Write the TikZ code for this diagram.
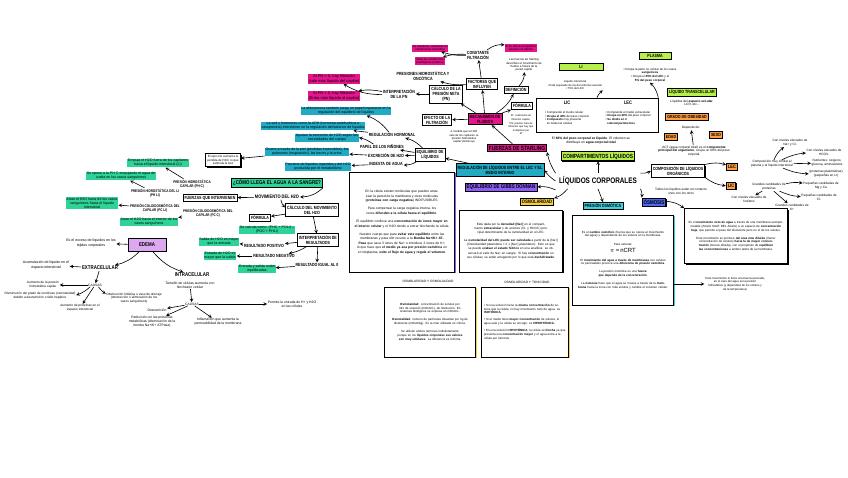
\documentclass[tikz,border=0pt]{standalone}
\usepackage{fontspec}
\setmainfont{Liberation Sans}
\newfontfamily\handfont[FakeStretch=0.8]{Liberation Sans}
\usetikzlibrary{positioning,shadows,arrows}
\definecolor{pinkc}{HTML}{E5168C}
\definecolor{cyanh}{HTML}{22A9C4}
\definecolor{cyanl}{HTML}{40D0E0}
\definecolor{greenh}{HTML}{30D397}
\definecolor{limec}{HTML}{B8F04B}
\definecolor{orangec}{HTML}{FF9F45}
\definecolor{lavc}{HTML}{DDA8F2}
\definecolor{purplec}{HTML}{8E5CF6}
\definecolor{yellowc}{HTML}{F6D03C}
\definecolor{bluec}{HTML}{4E6BF5}
\newcommand{\ttlf}{\handfont\bfseries\fontsize{4.5}{5}\selectfont}
\newcommand{\bigttl}{\handfont\bfseries\fontsize{6}{7}\selectfont}

\begin{document}
\begin{tikzpicture}[x=1pt,y=-1pt,
  ttl/.style={font=\ttlf, align=center, inner sep=0.8pt},
  wbox/.style={ttl, draw, line width=0.8pt, fill=white, inner sep=1.6pt,
               drop shadow={fill=black, opacity=1, shadow xshift=0.7pt, shadow yshift=-0.7pt}},
  cbox/.style={wbox, fill=#1},
  hl/.style={fill=#1, inner sep=0.7pt, align=center, font=\fontsize{3.6}{4}\selectfont},
  note/.style={align=center, inner sep=0.5pt, font=\fontsize{3.2}{3.8}\selectfont},
  para/.style={draw, line width=0.7pt, fill=white, inner sep=2.5pt, align=center,
               font=\fontsize{3}{3.9}\selectfont,
               drop shadow={fill=#1, opacity=1, shadow xshift=1.3pt, shadow yshift=-1.3pt}},
  arr/.style={->, >=stealth, line width=0.6pt}]
\useasboundingbox (0,0) rectangle (848,477);
\fill[white] (0,0) rectangle (848,477);

% starling
\node[hl=pinkc, font=\fontsize{3}{3.4}\selectfont] (pinkA) at (430,48) {Se mantiene constante en\\condiciones normales};
\node[hl=pinkc, font=\fontsize{3}{3.4}\selectfont] (pinkB) at (430,61) {Varía en condiciones\\patológicas (edema)};
\node[ttl] (constante) at (478,55) {CONSTANTE\\FILTRACIÓN};
\node[hl=pinkc, font=\fontsize{3}{3.4}\selectfont] (pinkC) at (521,48) {Si se altera el equilibrio\\aparece el edema};
\node[note, font=\fontsize{2.9}{3.4}\selectfont] (starlingdef) at (524,65) {Las fuerzas de Starling\\describen el movimiento de\\fluidos a través de la\\pared capilar};
\node[ttl] (presiones) at (423,76) {PRESIONES HIDROSTÁTICA Y\\ONCÓTICA};
\node[wbox] (factores) at (482,84) {FACTORES QUE\\INFLUYEN};
\node[wbox] (definicion) at (516,90) {DEFINICIÓN};
\node[wbox] (calculoPN) at (446,94) {CÁLCULO DE LA\\PRESIÓN NETA\\(PN)};
\node[wbox] (formulaA) at (522,106) {FÓRMULA};
\node[note, font=\fontsize{2.6}{3.6}\selectfont] (formulaTxt) at (521,125) {Kf: coeficiente de\\filtración capilar.\\PN: presión neta de\\filtración que hay que\\multiplicar por\\Kf};
\node[cbox=pinkc] (mecanismos) at (485,119) {MECANISMOS DE\\FLUIDOS};
\node[wbox] (efecto) at (437,120) {EFECTO DE LA\\FILTRACIÓN};
\node[note, font=\fontsize{2.8}{3.3}\selectfont] (efectoTxt) at (464,137) {A medida que el H2O\\sale de los capilares, la\\presión hidrostática\\capilar disminuye};
\node[ttl] (interpretPN) at (399,94) {INTERPRETACIÓN\\DE LA PN};
\node[hl=pinkc, font=\fontsize{4}{4.6}\selectfont] (pinkPos) at (334,79) {Si PN > 0, hay filtración\\(sale más líquido del capilar)};
\node[hl=pinkc, font=\fontsize{4}{4.6}\selectfont] (pinkNeg) at (334,96) {Si PN < 0, hay filtración\\(Entra más líquido al capilar)};
\node[cbox=pinkc, font=\bigttl] (starling) at (517,148) {FUERZAS DE STARLING};

% equilibrio de liquidos
\node[hl=cyanh] (aldost) at (346,111) {La aldosterona también juega un papel importante en la\\regulación del equilibrio de líquidos};
\node[hl=cyanh] (sedADH) at (313,126) {La sed y hormonas como la ADH (hormona antidiurética o\\vasopresina) intervienen en la regulación del balance de líquidos};
\node[hl=cyanh] (ajustan) at (327,138) {Ajustan la excreción de H2O según las\\necesidades del cuerpo};
\node[hl=cyanh] (ocurre) at (307,152) {Ocurre a través de la piel (pérdidas insensibles), los\\pulmones (respiración), las heces y la orina};
\node[hl=cyanh] (proviene) at (318,167) {Proviene de líquidos ingeridos y del H2O\\producida por el metabolismo};
\node[ttl] (regHorm) at (392,135) {REGULACIÓN HORMONAL};
\node[ttl] (rinones) at (382,147) {PAPEL DE LOS RIÑONES};
\node[ttl] (excrecion) at (386,156) {EXCRECIÓN DE H2O};
\node[ttl] (ingesta) at (386,164) {INGESTA DE AGUA};
\node[wbox] (equilibrio) at (430,155) {EQUILIBRIO DE\\LÍQUIDOS};
\node[para=black, font=\fontsize{3}{3.6}\selectfont, inner sep=2pt] (ejercicio) at (223,160) {El ejercicio aumenta la\\pérdida de H2O, lo que\\estimula la sed};
\node[cbox=cyanh] (regulacion) at (500,170) {REGULACIÓN DE LÍQUIDOS ENTRE EL LEC Y EL\\MEDIO INTERNO};
\node[cbox=purplec, font=\handfont\bfseries\fontsize{5.5}{6}\selectfont] (gibbs) at (501,187) {EQUILIBRIO DE GIBBS DONNAN};
\node[para=purplec, text width=100pt, minimum height=100pt, font=\fontsize{3.3}{4.4}\selectfont] (bigBox) at (402,222) {En la célula existen moléculas que pueden atravesar la pared de la membrana y otras moléculas (\textbf{proteínas con carga negativa}) INDIFUSIBLES.\\[4pt]
Para compensar la carga negativa interna, los iones \textbf{difunden a la célula hasta el equilibrio}.\\[4pt]
El equilibrio conlleva una \textbf{concentración de iones mayor en el interior celular} y el H2O tiende a entrar hinchando la célula.\\[4pt]
Nuestro cuerpo que para \textbf{evitar este equilibrio} entre las membranas y para ello recurre a la \textbf{Bomba Na+/K+ ATPasa} que saca 3 iones de Na+ e introduce 2 iones de K+, lo que hace que \textbf{el medio ya sea por presión osmótica} en el citoplasma, \textbf{evite el flujo de agua y regule el volumen}.};

% liquidos corporales
\node[font=\handfont\bfseries\fontsize{8}{9}\selectfont] (liquidos) at (598,181) {LÍQUIDOS CORPORALES};
\node[cbox=limec, font=\bigttl] (compart) at (598,156) {COMPARTIMENTOS LÍQUIDOS};
\node[note, font=\fontsize{3.3}{4}\selectfont] (pct) at (591,141) {El \textbf{60\% del peso corporal es líquido}. El volumen se\\distribuye en \textbf{agua corporal total}};
\node[para=black, minimum width=122pt, minimum height=34pt] (licLec) at (597,115) {};
\node[ttl, font=\handfont\bfseries\fontsize{5}{6}\selectfont] (licT) at (567,103) {LIC};
\node[ttl, font=\handfont\bfseries\fontsize{5}{6}\selectfont] (lecT) at (628,103) {LEC};
\node[note, align=left, font=\fontsize{2.9}{3.7}\selectfont] (licTxt) at (567,118) {• Comprende el medio celular\\• \textbf{Ocupa el 40\%} del peso corporal\\• \textbf{Compuesto} muy presente\\\ \ en todas las células};
\node[note, align=left, font=\fontsize{2.9}{3.7}\selectfont] (lecTxt) at (628,118) {• Comprende el medio extracelular\\• \textbf{Ocupa un 20\%} del peso corporal\\• \textbf{Se divide en 3}\\\ \ \textbf{subcompartimentos}};
\node[cbox=limec, minimum width=44pt] (li) at (581,67) {LI};
\node[note, font=\fontsize{2.8}{3.6}\selectfont] (liTxt) at (575,85) {Líquido intersticial\\• Está separado de los del sistema vascular\\• 75\% del LEC};
\node[cbox=limec, minimum width=32pt] (plasma) at (655,56) {PLASMA};
\node[note, font=\fontsize{3}{3.6}\selectfont] (plasmaTxt) at (650,75) {• Ocupa la parte no celular de los vasos\\\textbf{sanguíneos}\\• Ocupa el \textbf{25\% del LEC} y el\\\textbf{5\% del peso corporal}};
\node[cbox=limec] (transc) at (692,92) {LÍQUIDO TRANSCELULAR};
\node[note] (transTxt) at (692,103) {Líquidos del \textbf{espacio sel-ular},\\LCR, etc...};
\node[cbox=orangec] (obesidad) at (687,117) {GRADO DE OBESIDAD};
\node[note] (depende) at (691,128) {Depende de:};
\node[cbox=orangec] (edad) at (671,137) {EDAD};
\node[cbox=orangec] (sexo) at (716,135) {SEXO};
\node[note] (act) at (694,151) {ACT (agua corporal total) es el \textbf{componente}\\\textbf{principal del organismo}, ocupa un 60\% del peso\\corporal.};
\node[wbox] (composicion) at (678,171) {COMPOSICIÓN DE LÍQUIDOS\\ORGÁNICOS};
\node[cbox=orangec, font=\handfont\bfseries\fontsize{5}{6}\selectfont] (lec) at (732,167) {LEC};
\node[cbox=orangec, font=\handfont\bfseries\fontsize{5}{6}\selectfont] (lic) at (731,186) {LIC};
\node[note] (todos) at (681,191) {Todos los líquidos están en contacto\\unos con los otros};
\node[note] (lecComp) at (772,164) {Composición muy similar al\\plasma y al líquido intersticial};
\node[note] (naCl) at (790,143) {Con niveles elevados de\\Na+ y Cl-};
\node[note] (hco3) at (824,152) {Con niveles elevados de\\HCO3-};
\node[note] (nutri) at (827,163) {Nutrientes: oxígeno,\\glucosa, aminoácidos};
\node[note] (protPl) at (826,174) {(proteínas plasmáticas)\\(pequeñas en LI)};
\node[note] (licComp) at (769,187) {Grandes cantidades de\\proteínas};
\node[note] (mgca) at (821,186) {Pequeñas cantidades de\\Mg y Ca};
\node[note] (clSmall) at (819,197) {Pequeñas cantidades de\\Cl-};
\node[note] (fosf) at (749,199) {Con niveles elevados de\\fosfatos};
\node[note] (kplus) at (792,207) {Grandes cantidades de\\K+};
\node[cbox=bluec, font=\handfont\bfseries\fontsize{5.5}{6}\selectfont] (osmosis) at (654,202) {ÓSMOSIS};
\node[para=black, text width=98pt, minimum height=55pt] (osmDesc) at (736,236) {Es el \textbf{movimiento neto de agua} a través de una membrana semipermeable (AGUA SALE DEL AGUA) a un espacio de \textbf{concentración baja}, que permite el paso del disolvente pero no el de los solutos.\\[4pt]
Este movimiento se produce \textbf{del área más diluida} (menor concentración de solutos) \textbf{hacia la de mayor concentración} (menos diluida), con el propósito de \textbf{equilibrar las concentraciones} a ambos lados de la membrana.};
\node[note, font=\fontsize{2.9}{3.7}\selectfont] (todoTxt) at (735,284) {Todo movimiento lo tiene una fuerza asociada,\\en el caso del agua es la presión\\hidrostática (y dependerá de los solutos y\\de la temperatura)};
\node[cbox=yellowc, font=\handfont\bfseries\fontsize{5}{6}\selectfont] (osmolaridad) at (537,202) {OSMOLARIDAD};
\node[cbox=cyanl, font=\handfont\bfseries\fontsize{4.5}{5}\selectfont] (presOsm) at (603,206) {PRESIÓN OSMÓTICA};
\node[para=black, text width=98pt, minimum height=62pt, font=\fontsize{3.1}{4.1}\selectfont] (osmTxt) at (511,241) {Está dada por la \textbf{densidad [Na+]} en el compartimento \textbf{extracelular} y de aniones (Cl- y HCO3-) principal determinante de la osmolaridad en el LEC.\\[4pt]
La \textbf{osmolaridad del LEC puede ser calculada} a partir de la [Na+] (Osmolaridad plasmática = 2 x [Na+] plasmático). Esto es que se puede \textbf{evaluar el estado hídrico} en una analítica: se observará el valor de Na+ en sangre. Si hay \textbf{concentración} en sus células, se están arrugando por lo que está \textbf{deshidratado}.};
\node[para=cyanl, text width=96pt, minimum height=90pt] (presTxt) at (623,260) {Es el \textbf{cambio osmótico} (fuerza que se opone al movimiento del agua) y dependiente de los solutos en la membrana.\\[5pt]
Para calcular:\\[1pt] {\fontsize{6}{7}\selectfont $\pi$ = nCRT}\\[5pt]
El \textbf{movimiento del agua a través de membranas} con solutos no permeables provoca una \textbf{diferencia de presión osmótica}.\\[4pt]
La presión osmótica es una \textbf{fuerza que depende de la concentración}.\\[4pt]
La \textbf{ósmosis} hace que el agua se mueva a través de la \textbf{membrana} hacia la zona con más solutos y cambie el volumen celular.};
\node[font=\fontsize{3.2}{4}\selectfont] (osmHead1) at (428,281) {OSMOLARIDAD Y OSMOLALIDAD};
\node[para=yellowc, text width=86pt, minimum height=70pt] (osmolBox) at (430,322) {\textbf{Osmolaridad}: concentración de solutos por litro de solución (mOsm/L), de disolución. En sistemas biológicos se expresa en mOsm/L.\\[4pt]
\textbf{Osmolalidad}: número de partículas disueltas por kg de disolvente (mOsm/kg). Es la más utilizada en clínica.\\[4pt]
Se utilizan ambos términos indistintamente porque en los \textbf{líquidos corporales sus valores son muy similares}. La diferencia es mínima.};
\node[font=\fontsize{3.2}{4}\selectfont] (osmHead2) at (527,282) {OSMOLARIDAD Y TONICIDAD};
\node[para=yellowc, text width=82pt, minimum height=70pt, align=left] (tonBox) at (525,322) {• Si una solución tiene la \textbf{misma concentración} de solutos que la célula, no hay movimiento neto de agua: es \textbf{ISOTÓNICA}.\\[3pt]
• Si el medio tiene \textbf{mayor concentración} de solutos, el agua sale y la célula se encoge: es \textbf{HIPERTÓNICA}.\\[3pt]
• En una solución \textbf{HIPOTÓNICA}, la célula se \textbf{hincha} ya que presenta una \textbf{concentración mayor} y el agua entra a la célula por ósmosis.};

% como llega el agua
\node[cbox=greenh, font=\handfont\bfseries\fontsize{5.5}{6}\selectfont] (como) at (277,183) {¿CÓMO LLEGA EL AGUA A LA SANGRE?};
\node[wbox] (fuerzasInt) at (210,198) {FUERZAS QUE INTERVIENEN};
\node[ttl, font=\handfont\bfseries\fontsize{5}{6}\selectfont] (movimiento) at (277,197) {MOVIMIENTO DEL H2O};
\node[wbox] (calcMov) at (312,210) {CÁLCULO DEL MOVIMIENTO\\DEL H2O};
\node[wbox] (formulaB) at (260,218) {FÓRMULA};
\node[hl=greenh] (seCalcula) at (267,230) {Se calcula como: (PHC + POLI) --\\(POC + PHLI)};
\node[wbox] (interpRes) at (318,240) {INTERPRETACIÓN DE\\RESULTADOS};
\node[ttl] (resPos) at (264,246) {RESULTADO POSITIVO};
\node[ttl] (resNeg) at (274,256) {RESULTADO NEGATIVO};
\node[ttl] (resCero) at (317,265) {RESULTADO IGUAL AL 0};
\node[hl=greenh] (salida) at (219,242) {Salida de H2O es mayor\\que la entrada};
\node[hl=greenh] (entrada) at (220,256) {Entrada de H2O es\\mayor que la salida};
\node[hl=greenh] (equil) at (257,269) {Entrada y salida están\\equilibradas};
\node[ttl, font=\handfont\bfseries\fontsize{3.8}{4.4}\selectfont] (phc) at (192,184) {PRESIÓN HIDROSTÁTICA\\CAPILAR (PH C)};
\node[ttl, font=\handfont\bfseries\fontsize{3.8}{4.4}\selectfont] (phli) at (155,193) {PRESIÓN HIDROSTÁTICA DEL LI\\(PH LI)};
\node[ttl, font=\handfont\bfseries\fontsize{3.8}{4.4}\selectfont] (pcli) at (155,208) {PRESIÓN COLOIDOSMÓTICA DEL\\CAPILAR (PC LI)};
\node[ttl, font=\handfont\bfseries\fontsize{3.8}{4.4}\selectfont] (pcc) at (208,213) {PRESIÓN COLOIDOSMÓTICA DEL\\CAPILAR (PC C)};
\node[hl=greenh] (empuja) at (158,163) {Empuja el H2O fuera de los capilares\\hacia el líquido intersticial (LI)};
\node[hl=greenh] (opone) at (121,176) {Se opone a la PH C empujando el agua de\\vuelta en los vasos sanguíneos};
\node[hl=greenh] (atraeF) at (92,203) {Atrae el H2O fuera de los vasos\\sanguíneos hacia el líquido\\intersticial};
\node[hl=greenh] (atraeH) at (149,222) {Atrae el H2O hacia el interior de los\\vasos sanguíneos};

% edema
\node[cbox=lavc, font=\handfont\bfseries\fontsize{5.5}{6}\selectfont, minimum width=38pt, minimum height=13pt] (edema) at (147,245) {EDEMA};
\node[note, font=\fontsize{3.6}{4.2}\selectfont] (exceso) at (91,243) {Es el exceso de líquidos en los\\tejidos corporales};
\node[ttl, font=\handfont\bfseries\fontsize{5.5}{6}\selectfont] (extra) at (100,268) {EXTRACELULAR};
\node[ttl, font=\handfont\bfseries\fontsize{5.5}{6}\selectfont] (intra) at (192,275) {INTRACELULAR};
\node[note, font=\fontsize{3.6}{4.2}\selectfont] (acum) at (46,265) {Acumulación de líquido en el\\espacio intersticial};
\node[note, font=\fontsize{3.3}{3.8}\selectfont] (causasE) at (95,285) {CAUSAS};
\node[note] (aumPH) at (43,285) {Aumento de la presión\\hidrostática capilar};
\node[note] (dism) at (40,296) {Disminución del grado de oncóticas (osmolaridad)\\debido a desnutrición o fallo hepático};
\node[note] (obst) at (134,298) {Obstrucción linfática o vaso de drenaje\\(obstrucción o eliminación de los\\vasos sanguíneos)};
\node[note] (aumProt) at (80,308) {Aumento de proteínas en el\\espacio intersticial};
\node[note, font=\fontsize{3.4}{4}\selectfont] (tamano) at (190,285) {Tamaño de células aumenta con\\hinchazón celular};
\node[note, font=\fontsize{3.3}{3.8}\selectfont] (causasI) at (192,304) {CAUSAS};
\node[note, font=\fontsize{3.4}{4}\selectfont] (desnut) at (157,310) {Desnutrición};
\node[note, font=\fontsize{3.4}{4}\selectfont] (reduc) at (152,322) {Reducción en las proteínas\\metabólicas (disminución de la\\bomba Na+/K+ ATPasa)};
\node[note, font=\fontsize{3.4}{4}\selectfont] (inflam) at (218,322) {Inflamación que aumenta la\\permeabilidad de la membrana};
\node[note, font=\fontsize{3.4}{4}\selectfont] (permite) at (292,304) {Permite la entrada de H+ y H2O\\en las células};

% connectors
\draw[arr] (constante) to[bend left=10] (pinkA);
\draw[arr] (constante) to[bend right=10] (pinkB);
\draw[arr] (constante) to[bend left=20] (pinkC);
\draw[arr] (factores) -- (constante);
\draw[arr] (factores) to[bend left=10] (presiones);
\draw[arr] (definicion) to[bend right=20] (starlingdef);
\draw[arr] (calculoPN) -- (interpretPN);
\draw[arr] (interpretPN) to[bend left=15] (pinkPos);
\draw[arr] (interpretPN) to[bend right=10] (pinkNeg);
\draw[arr] (mecanismos) -- (factores);
\draw[arr] (mecanismos) to[bend right=15] (definicion);
\draw[arr] (mecanismos) -- (formulaA);
\draw[arr] (mecanismos) -- (calculoPN);
\draw[arr] (mecanismos) -- (efecto);
\draw[arr] (starling) -- (mecanismos);
\draw[arr] (liquidos.north west) to[bend left=10] (starling.south east);
\draw[arr] (liquidos.west) to[bend left=10] (regulacion.east);
\draw[arr] ([yshift=-1pt]liquidos.south west) to[bend right=15] (gibbs.east);
\draw[arr] ([xshift=12pt]liquidos.south west) to[bend left=15] (osmolaridad.north east);
\draw[arr] (liquidos.south) -- (presOsm.north);
\draw[arr] (liquidos.north) -- (compart.south);
\draw[arr] (liquidos.north east) to[bend right=15] (composicion.west);
\draw[arr] (liquidos.south east) to[bend left=15] (osmosis.north west);
\draw[arr] (regulacion) -- (equilibrio);
\draw[arr] (equilibrio) to[bend right=15] (regHorm);
\draw[arr] (equilibrio) -- (rinones);
\draw[arr] (equilibrio) -- (excrecion);
\draw[arr] (equilibrio) to[bend left=15] (ingesta);
\draw[arr] (regHorm) to[bend right=15] (aldost);
\draw[arr] (regHorm) -- (sedADH);
\draw[arr] (rinones) to[bend right=10] (ajustan);
\draw[arr] (excrecion) -- (ocurre);
\draw[arr] (ingesta) -- (proviene);
\draw[arr] (ocurre) -- (ejercicio);
\draw[arr] (licLec.north) to[bend left=15] (liTxt.south east);
\draw[arr] (licLec.north east) to[bend right=15] (plasmaTxt.south);
\draw[arr] (act) -- (depende);
\draw[arr] (composicion.north east) to[bend left=15] (lec);
\draw[arr] (composicion.south east) to[bend right=15] (lic);
\draw[arr] (lecComp) to[bend left=15] (naCl);
\draw[arr] (lecComp) to[bend left=10] (hco3);
\draw[arr] (lecComp) -- (nutri);
\draw[arr] (lecComp) to[bend right=10] (protPl);
\draw[arr] (licComp) to[bend left=10] (mgca);
\draw[arr] (licComp) to[bend right=10] (clSmall);
\draw[arr] (licComp) -- (fosf);
\draw[arr] (licComp) -- (kplus);
\draw[arr] (osmosis) to[bend left=15] (osmDesc.north west);
\draw[arr] (presTxt.east |- todoTxt) -- (todoTxt);
\draw[arr] (como.south east) to[bend left=20] (movimiento.east);
\draw[arr] (movimiento) -- (fuerzasInt);
\draw[arr] (movimiento) to[bend right=15] (calcMov);
\draw[arr] (calcMov) -- (formulaB);
\draw[arr] (calcMov) -- (interpRes);
\draw[arr] (interpRes) -- (resPos);
\draw[arr] (interpRes) to[bend left=10] (resNeg);
\draw[arr] (interpRes) -- (resCero);
\draw[arr] (resPos) -- (salida);
\draw[arr] (resNeg) -- (entrada);
\draw[arr] (resCero) -- (equil);
\draw[arr] (phc) -- (empuja);
\draw[arr] (phli) -- (opone);
\draw[arr] (pcli) -- (atraeF);
\draw[arr] (pcc) -- (atraeH);
\draw[arr] (edema) -- (exceso);
\draw[arr] (edema) to[bend left=15] (extra);
\draw[arr] (edema) to[bend right=15] (intra);
\draw[arr] (extra) -- (acum);
\draw[arr] (extra) -- (causasE);
\draw[arr] (causasE) -- (aumPH);
\draw[arr] (causasE) to[bend left=10] (dism);
\draw[arr] (causasE) to[bend right=10] (obst);
\draw[arr] (causasE) -- (aumProt);
\draw[arr] (tamano) -- (causasI);
\draw[arr] (causasI) -- (desnut);
\draw[arr] (causasI) -- (reduc);
\draw[arr] (causasI) -- (inflam);
\draw[arr] (causasI) -- (permite);
\end{tikzpicture}
\end{document}
